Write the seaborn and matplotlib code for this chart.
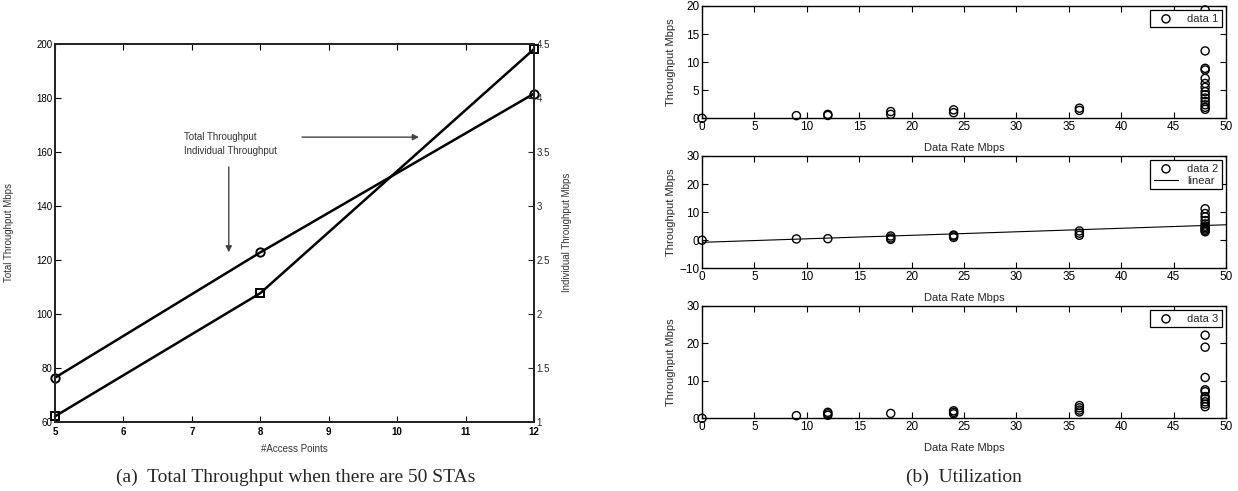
import matplotlib
matplotlib.use("Agg")
import matplotlib.pyplot as plt
from matplotlib.ticker import FormatStrFormatter
import seaborn as sns

# (a) throughput against number of access points
access_points = [5, 8, 12]
total_throughput = [76.3, 122.7, 181.5]
individual_throughput = [1.05, 2.19, 4.45]

# (b) utilization: data rate vs throughput, one pair of lists per panel
rate_1 = [0, 9, 12, 12, 18, 18, 24, 24, 36, 36,
          48, 48, 48, 48, 48, 48, 48, 48, 48, 48, 48, 48, 48, 48]
thr_1 = [0, 0.47, 0.7, 0.5, 1.2, 0.7, 1.5, 1.0, 1.8, 1.4,
         19.3, 12.0, 8.9, 8.6, 7.1, 6.2, 5.5, 4.75, 4.2, 3.6, 3.0, 2.4, 1.95, 1.6]

rate_2 = [0, 9, 12, 18, 18, 18, 24, 24, 24, 36, 36, 36,
          48, 48, 48, 48, 48, 48, 48, 48, 48, 48]
thr_2 = [0, 0.45, 0.55, 1.5, 0.8, 0.3, 1.85, 1.5, 1.0, 3.3, 2.5, 1.75,
         11.2, 9.5, 8.3, 7.0, 5.8, 5.0, 4.5, 4.0, 3.5, 3.0]
fit_rate = [0, 50]
fit_thr = [-0.75, 5.5]

rate_3 = [0, 9, 12, 12, 12, 18, 24, 24, 24, 36, 36, 36, 36,
          48, 48, 48, 48, 48, 48, 48, 48, 48, 48]
thr_3 = [0, 0.7, 1.6, 1.2, 0.8, 1.3, 2.0, 1.6, 1.2, 3.4, 2.8, 2.2, 1.7,
         22.2, 19.0, 10.9, 7.6, 7.1, 5.8, 5.2, 4.4, 3.8, 3.1]

sns.set_style("ticks")
plt.rcParams["font.family"] = ["Liberation Sans", "DejaVu Sans"]

fig = plt.figure(figsize=(12.38, 4.91), dpi=100)


def matlab_axes(ax, lw=1.0, size=7):
    for s in ax.spines.values():
        s.set_linewidth(lw)
        s.set_color("k")
    ax.tick_params(direction="in", top=True, right=True, length=4, width=0.8,
                   labelsize=size, pad=2, colors="k")


# ---------------- (a) ----------------
ax = fig.add_axes([0.0444, 0.1411, 0.3869, 0.7699])
sns.lineplot(x=access_points, y=total_throughput, ax=ax, color="k", lw=1.8,
             marker="o", ms=6, mfc="none", mec="k", mew=1.4, clip_on=False)
ax.set_xlim(5, 12)
ax.set_ylim(60, 200)
ax.set_xticks(range(5, 13))
ax.set_yticks(range(60, 201, 20))
matlab_axes(ax, lw=1.4)
ax.tick_params(right=False)
ax.tick_params(axis="x", pad=4)
for t in ax.get_xticklabels():
    t.set_fontweight("bold")
ax.set_xlabel("#Access Points", fontsize=7, color="#333")
ax.set_ylabel("Total Throughput Mbps", fontsize=7, color="#333")
ax.xaxis.set_label_coords(0.5, -0.06)
ax.yaxis.set_label_coords(-0.085, 0.5)

ax2 = ax.twinx()
sns.lineplot(x=access_points, y=individual_throughput, ax=ax2, color="k", lw=1.8,
             marker="s", ms=5.5, mfc="none", mec="k", mew=1.4, clip_on=False)
ax2.set_ylim(1, 4.5)
ax2.set_yticks([1, 1.5, 2, 2.5, 3, 3.5, 4, 4.5])
ax2.yaxis.set_major_formatter(FormatStrFormatter("%g"))
ax2.tick_params(direction="in", right=True, length=4, width=0.8, labelsize=7, pad=2)
for s in ax2.spines.values():
    s.set_linewidth(1.4)
ax2.set_ylabel("Individual Throughput Mbps", fontsize=7, color="#333")
ax2.yaxis.set_label_coords(1.058, 0.5)

ax.text(6.88, 165.4, "Total Throughput", fontsize=7, color="#333", va="center")
ax.text(6.88, 160.4, "Individual Throughput", fontsize=7, color="#333", va="center")
arrow = dict(arrowstyle="-|>", color="#444", lw=1.0, mutation_scale=9)
ax.annotate("", xy=(10.36, 165.4), xytext=(8.57, 165.4), arrowprops=arrow)
ax.annotate("", xy=(7.54, 121.7), xytext=(7.54, 155.4), arrowprops=arrow)

# ---------------- (b) ----------------
panels = [
    (0.7591, rate_1, thr_1, "data 1", (0, 20), range(0, 21, 5)),
    (0.4536, rate_2, thr_2, "data 2", (-10, 30), range(-10, 31, 10)),
    (0.1481, rate_3, thr_3, "data 3", (0, 30), range(0, 31, 10)),
]
for y0, xs, ys, name, ylim, yticks in panels:
    bx = fig.add_axes([0.5671, y0, 0.4233, 0.2287])
    sns.scatterplot(x=xs, y=ys, ax=bx, marker="o", s=34, facecolor="none",
                    edgecolor="k", linewidth=1.0, label=name, clip_on=False)
    if name == "data 2":
        sns.lineplot(x=fit_rate, y=fit_thr, ax=bx, color="k", lw=0.8, label="linear")
    bx.set_xlim(0, 50)
    bx.set_ylim(*ylim)
    bx.set_xticks(range(0, 51, 5))
    bx.set_yticks(list(yticks))
    matlab_axes(bx, lw=1.0, size=8.5)
    bx.set_xlabel("Data Rate Mbps", fontsize=8)
    bx.set_ylabel("Throughput Mbps", fontsize=8)
    bx.xaxis.set_label_coords(0.5, -0.22)
    bx.yaxis.set_label_coords(-0.05, 0.5)
    bx.legend(loc="upper right", fontsize=8, frameon=True, fancybox=False,
              edgecolor="k", framealpha=1, borderaxespad=0.4, borderpad=0.3,
              handlelength=2.2, handletextpad=0.8, labelspacing=0.2)
    bx.get_legend().get_frame().set_linewidth(0.9)

fig.text(296 / 1238, 1 - 477 / 491, "(a)  Total Throughput when there are 50 STAs",
         ha="center", va="center", fontsize=14, family=["Liberation Serif", "DejaVu Serif"])
fig.text(964 / 1238, 1 - 477 / 491, "(b)  Utilization",
         ha="center", va="center", fontsize=14, family=["Liberation Serif", "DejaVu Serif"])

fig.savefig("out.png", dpi=100)
